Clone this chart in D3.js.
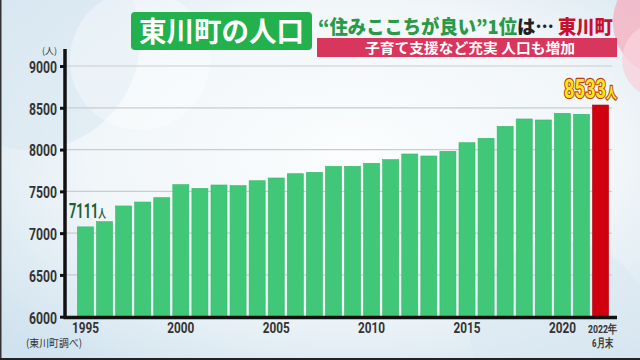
<!DOCTYPE html>
<html><head><meta charset="utf-8">
<script src="https://cdn.jsdelivr.net/npm/d3@7/dist/d3.min.js"></script>
<style>html,body{margin:0;padding:0;background:#fff;}svg{display:block;}</style>
</head><body>
<script>
const years = ["1995","1996","1997","1998","1999","2000","2001","2002","2003","2004","2005","2006","2007","2008","2009","2010","2011","2012","2013","2014","2015","2016","2017","2018","2019","2020","2021","2022"];
const population = [7075,7137,7325,7372,7424,7580,7536,7576,7568,7627,7660,7711,7728,7800,7800,7836,7879,7947,7923,7979,8082,8135,8278,8366,8354,8434,8422,8533];
const yTicks = [6000,6500,7000,7500,8000,8500,9000];
const xLabelYears = ["1995","2000","2005","2010","2015","2020"];
const lastLabel = ["2022年","6月末"];
const firstValueLabel = "7111";
const lastValueLabel = "8533";

const W = 640, H = 360;
const NUM_FONT = "Roboto, 'Liberation Sans', sans-serif";
const JP_FONT = "'Noto Sans CJK JP', sans-serif";
const svg = d3.select("body").append("svg").attr("width", W).attr("height", H);
const defs = svg.append("defs");
const bg = defs.append("radialGradient").attr("id","bg").attr("cx","55%").attr("cy","42%").attr("r","75%");
bg.append("stop").attr("offset","0%").attr("stop-color","#fbfdfe");
bg.append("stop").attr("offset","55%").attr("stop-color","#f1f6f9");
bg.append("stop").attr("offset","100%").attr("stop-color","#cfe2ee");
svg.append("rect").attr("width",W).attr("height",H).attr("fill","url(#bg)");
svg.append("circle").attr("cx",30).attr("cy",40).attr("r",110).attr("fill","#d8e8f2").attr("opacity",0.6);
svg.append("circle").attr("cx",140).attr("cy",60).attr("r",70).attr("fill","#ffffff").attr("opacity",0.35);
svg.append("circle").attr("cx",560).attr("cy",330).attr("r",90).attr("fill","#d9e8f1").attr("opacity",0.5);
svg.append("circle").attr("cx",668).attr("cy",22).attr("r",55).attr("fill","#f3b8c8").attr("opacity",0.9);
svg.append("circle").attr("cx",660).attr("cy",60).attr("r",38).attr("fill","#f8d2dc").attr("opacity",0.8);

const x = d3.scaleBand().domain(years).range([66,620]).paddingInner(0.16).paddingOuter(0.6);
const y = d3.scaleLinear().domain([6000,9000]).range([316.7,66]);

svg.append("g").selectAll("line").data(yTicks.filter(d=>d>6000)).join("line")
  .attr("x1",66).attr("x2",612).attr("y1",d=>y(d)).attr("y2",d=>y(d))
  .attr("stroke","#c9ccd0").attr("stroke-width",1.2);

svg.append("g").selectAll("rect").data(years).join("rect")
  .attr("x",d=>x(d)).attr("width",x.bandwidth())
  .attr("y",(d,i)=>y(population[i])).attr("height",(d,i)=>y(6000)-y(population[i]))
  .attr("fill",(d,i)=> i===years.length-1 ? "#d0000f" : "#40c878")
  .attr("stroke",(d,i)=> i===years.length-1 ? "#b0000c" : "#36b868").attr("stroke-width",0.6);

const yAxis = d3.axisLeft(y).tickValues(yTicks).tickSize(5).tickPadding(3).tickFormat(d3.format("d"));
const gy = svg.append("g").attr("transform","translate(65,0)").call(yAxis);
gy.select(".domain").remove();
gy.selectAll(".tick line").attr("stroke","#111").attr("stroke-width",3);
gy.selectAll(".tick text").attr("font-family",NUM_FONT)
  .attr("font-weight","bold").attr("font-size",16).attr("fill","#333").attr("dy","0.4em")
  .attr("textLength",28).attr("lengthAdjust","spacingAndGlyphs");
svg.append("line").attr("x1",65).attr("x2",65).attr("y1",49).attr("y2",318).attr("stroke","#111").attr("stroke-width",3.5);
svg.append("line").attr("x1",63.5).attr("x2",617).attr("y1",317.5).attr("y2",317.5).attr("stroke","#111").attr("stroke-width",3.5);

svg.append("text").attr("x",57).attr("y",54).attr("text-anchor","end")
  .attr("font-family",JP_FONT).attr("font-size",9).attr("fill","#333").text("(人)");

const xAxis = d3.axisBottom(x).tickValues(xLabelYears).tickSize(0).tickPadding(5);
const gx = svg.append("g").attr("transform","translate(0,318)").call(xAxis);
gx.select(".domain").remove();
gx.selectAll(".tick text").attr("font-family",NUM_FONT)
  .attr("font-weight","bold").attr("font-size",14.5).attr("fill","#333")
  .attr("textLength",27).attr("lengthAdjust","spacingAndGlyphs");
const lastX = x(years[years.length-1]) + x.bandwidth()/2 + 2;
svg.append("text").attr("x",lastX).attr("y",333).attr("text-anchor","middle")
  .attr("font-family",NUM_FONT).attr("font-weight","bold")
  .attr("font-size",11.5).attr("fill","#333").attr("textLength",29).attr("lengthAdjust","spacingAndGlyphs").text(lastLabel[0]);
svg.append("text").attr("x",lastX).attr("y",346.5).attr("text-anchor","middle")
  .attr("font-family",NUM_FONT).attr("font-weight","bold")
  .attr("font-size",11.5).attr("fill","#333").attr("textLength",21).attr("lengthAdjust","spacingAndGlyphs").text(lastLabel[1]);

svg.append("text").attr("x",26).attr("y",347)
  .attr("font-family",JP_FONT).attr("font-size",10.5).attr("fill","#333")
  .attr("textLength",56).attr("lengthAdjust","spacingAndGlyphs").text("(東川町調べ)");

// helper: fit a single text element horizontally by scaling
function fitX(sel, x0, y0, width){
  const w = sel.node().getComputedTextLength();
  const s = width / w;
  sel.attr("transform", `translate(${x0},${y0}) scale(${s},1)`);
}

// value labels
const t1 = svg.append("text").attr("font-family",NUM_FONT).attr("font-weight","bold").attr("fill","#1f5f36");
t1.append("tspan").attr("font-size",20).text(firstValueLabel);
t1.append("tspan").attr("font-size",12).attr("font-family",JP_FONT).text("人");
fitX(t1, 69, 218, 37);

const t2 = svg.append("text").attr("font-family",NUM_FONT).attr("font-weight","bold").attr("fill","#ffe81a")
  .attr("stroke","#b8400c").attr("stroke-width",2.4).attr("paint-order","stroke").attr("stroke-linejoin","round");
t2.append("tspan").attr("font-size",25).text(lastValueLabel);
t2.append("tspan").attr("font-size",15).attr("font-family",JP_FONT).text("人");
fitX(t2, 564, 98, 53);

// title
svg.append("rect").attr("x",131).attr("y",12).attr("width",181).attr("height",38).attr("rx",4).attr("fill","#22b14c");
svg.append("text").attr("x",221.5).attr("y",42).attr("text-anchor","middle")
  .attr("font-family",JP_FONT).attr("font-weight","bold").attr("font-size",28)
  .attr("fill","#fff").attr("textLength",165).attr("lengthAdjust","spacingAndGlyphs").text("東川町の人口");

// subtitle bar
svg.append("rect").attr("x",317).attr("y",38).attr("width",300).attr("height",19).attr("fill","#d8365c");
svg.append("text").attr("x",470).attr("y",53).attr("text-anchor","middle")
  .attr("font-family",JP_FONT).attr("font-weight","bold").attr("font-size",14)
  .attr("fill","#fff").attr("textLength",210).attr("lengthAdjust","spacingAndGlyphs").text("子育て支援など充実 人口も増加");

// headline as one text
const hl = svg.append("text").attr("font-family",JP_FONT).attr("font-weight","900").attr("font-size",19);
hl.append("tspan").attr("fill","#2a9a48").text("“住みここちが良い”1位");
hl.append("tspan").attr("fill","#222").text("は… ");
hl.append("tspan").attr("fill","#c8102e").text("東川町");
fitX(hl, 318, 34, 295);

svg.append("rect").attr("x",0).attr("y",0).attr("width",1.5).attr("height",H).attr("fill","#333");
svg.append("rect").attr("x",0).attr("y",358).attr("width",W).attr("height",2).attr("fill","#222");
</script>
</body></html>
